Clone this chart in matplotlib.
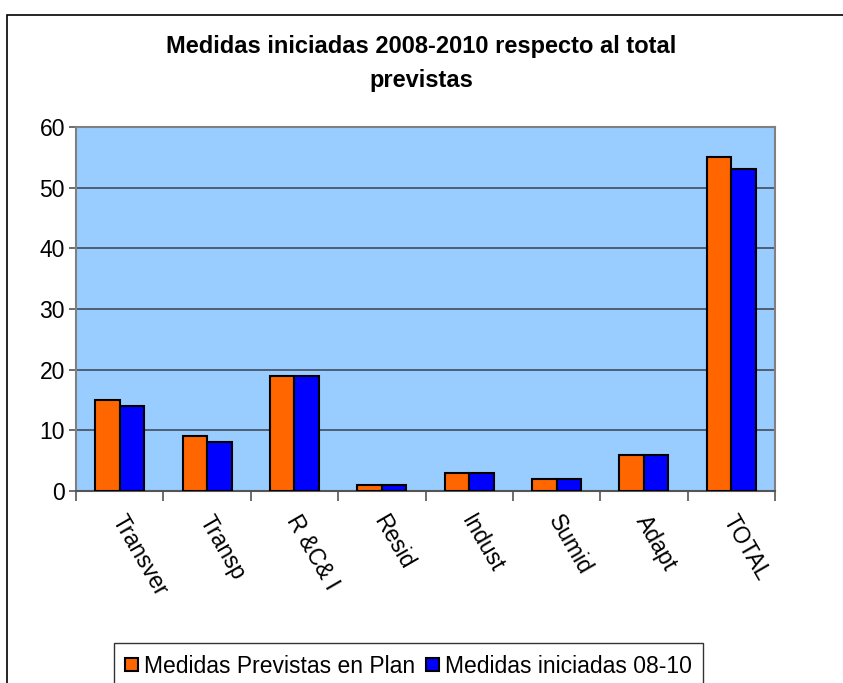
import matplotlib
matplotlib.use("Agg")
import matplotlib.pyplot as plt
import numpy as np
from matplotlib.patches import Rectangle

plt.rcParams['font.family'] = ['Liberation Sans', 'DejaVu Sans']

categories = ['Transver', 'Transp', 'R &C& I', 'Resid', 'Indust', 'Sumid', 'Adapt', 'TOTAL']
previstas = [15, 9, 19, 1, 3, 2, 6, 55]
iniciadas = [14, 8, 19, 1, 3, 2, 6, 53]
series_names = ['Medidas Previstas en Plan', 'Medidas iniciadas 08-10']

W, H = 843, 683
fig = plt.figure(figsize=(W / 100, H / 100), dpi=100)

# axes placement in pixels
left, right, top, bottom = 76, 775, 127, 491
ax = fig.add_axes([left / W, 1 - bottom / H, (right - left) / W, (bottom - top) / H])
ax.set_facecolor('#99CCFF')

x = np.arange(len(categories))
bw = 0.28
ax.bar(x - bw / 2, previstas, bw, color='#FF6600', edgecolor='black', linewidth=1.5,
       label=series_names[0], zorder=3)
ax.bar(x + bw / 2, iniciadas, bw, color='#0000FF', edgecolor='black', linewidth=1.5,
       label=series_names[1], zorder=3)

ax.set_xlim(-0.5, len(categories) - 0.5)
ax.set_ylim(0, 60)
ax.set_yticks(range(0, 61, 10))
ax.yaxis.grid(True, color='#4a5566', linewidth=1.3, zorder=1)
ax.set_axisbelow(True)

# ticks at category boundaries
ax.set_xticks(np.arange(-0.5, len(categories), 1))
ax.set_xticklabels([])
ax.tick_params(axis='x', direction='out', length=7, width=1.2, color='#555555')
ax.tick_params(axis='y', direction='out', length=5, width=1.2, color='#555555',
               labelsize=16.5, pad=3)
for s in ax.spines.values():
    s.set_color('#808080')
    s.set_linewidth(1.5)
ax.spines['bottom'].set_color('#555555')

for i, c in enumerate(categories):
    ax.text(i + 0.08, -3.3, c, rotation=-60, ha='left', va='top',
            rotation_mode='anchor', fontsize=16.5, transform=ax.transData)

fig.text(0.5, 1 - 47 / H, 'Medidas iniciadas 2008-2010 respecto al total',
         ha='center', va='center', fontsize=17, fontweight='bold')
fig.text(0.5, 1 - 80 / H, 'previstas', ha='center', va='center',
         fontsize=17, fontweight='bold')

leg = fig.legend(loc='lower left', bbox_to_anchor=(114 / W, -6 / H), ncol=2,
                 fontsize=16.5, frameon=True, fancybox=False, edgecolor='black',
                 handlelength=0.55, handleheight=0.55, handletextpad=0.25,
                 columnspacing=0.5, borderpad=0.5, borderaxespad=0)
leg.get_frame().set_linewidth(1.0)

# outer chart frame
fig.patches.append(Rectangle((7 / W, -0.1), 1.2, 1 - 15 / H + 0.1,
                             transform=fig.transFigure, fill=False,
                             edgecolor='black', linewidth=1.2))

fig.savefig('out.png', dpi=100)
